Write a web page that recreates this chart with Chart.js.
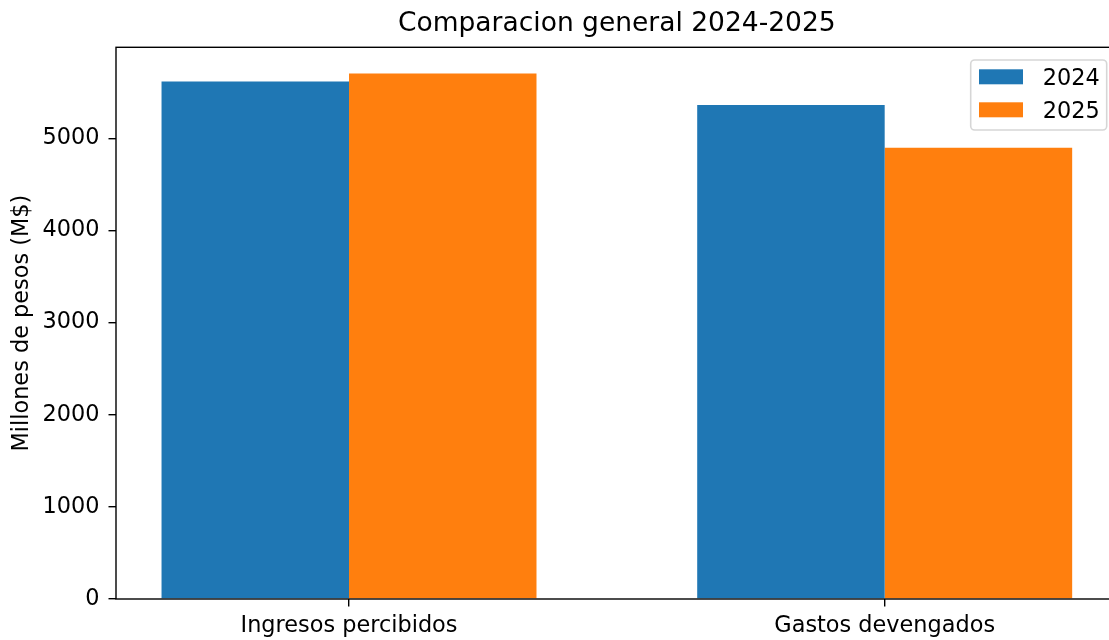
<!DOCTYPE html>
<html>
<head>
<meta charset="utf-8">
<script src="https://cdn.jsdelivr.net/npm/chart.js@4.4.1/dist/chart.umd.min.js"></script>
<style>
html, body { margin: 0; padding: 0; background: #fff; overflow: hidden; }
#wrap { width: 1130px; height: 640px; }
</style>
</head>
<body>
<div id="wrap"><canvas id="chart" width="1130" height="640"></canvas></div>
<script>
// data
const categories = ['Ingresos percibidos', 'Gastos devengados'];
const years = ['2024', '2025'];
const values2024 = [5616, 5362];
const values2025 = [5703, 4899];
const yTicks = [0, 1000, 2000, 3000, 4000, 5000];
const yMax = 5988;

const FONT = "'DejaVu Sans', sans-serif";
const FS = 22.4;
const blue = '#1f77b4';
const orange = '#ff7f0e';

// frame + legend drawn like matplotlib
const frameAndLegend = {
    id: 'frameAndLegend',
    afterDatasetsDraw(chart) {
        const ctx = chart.ctx;
        const a = chart.chartArea;

        ctx.save();
        ctx.strokeStyle = '#000';
        ctx.lineWidth = 1.4;
        ctx.strokeRect(a.left, a.top, a.right - a.left, a.bottom - a.top);

        // legend box
        const bx = a.right - 147, by = a.top + 12.7, bw = 136, bh = 70;
        ctx.beginPath();
        ctx.roundRect(bx, by, bw, bh, 4);
        ctx.fillStyle = 'rgba(255,255,255,0.8)';
        ctx.fill();
        ctx.strokeStyle = 'rgba(204,204,204,0.8)';
        ctx.lineWidth = 1.6;
        ctx.stroke();

        ctx.font = FS + 'px ' + FONT;
        ctx.textBaseline = 'alphabetic';
        ctx.textAlign = 'left';
        chart.data.datasets.forEach((ds, i) => {
            const rowTop = by + 9.3 + i * 33;
            ctx.fillStyle = ds.backgroundColor;
            ctx.fillRect(bx + 8.3, rowTop, 44, 15);
            ctx.fillStyle = '#000';
            ctx.fillText(ds.label, bx + 72, rowTop + 16);
        });
        ctx.restore();
    }
};

const context = document.getElementById('chart').getContext('2d');
const chart = new Chart(context, {
    type: 'bar',
    data: {
        datasets: [{
            label: years[0],
            data: values2024.map((v, i) => ({ x: i, y: v })),
            backgroundColor: blue,
            borderWidth: 0
        }, {
            label: years[1],
            data: values2025.map((v, i) => ({ x: i, y: v })),
            backgroundColor: orange,
            borderWidth: 0
        }]
    },
    options: {
        responsive: false,
        animation: false,
        devicePixelRatio: 1,
        categoryPercentage: 0.7,
        barPercentage: 1.0,
        layout: { padding: { left: 0, right: 12.3, top: 0, bottom: 0 } },
        plugins: {
            legend: { display: false },
            tooltip: { enabled: false },
            title: {
                display: true,
                fullSize: false,
                text: 'Comparacion general 2024-2025',
                color: '#000',
                font: { family: FONT, size: 26.5, weight: 'normal', lineHeight: 1.2 },
                padding: { top: 8, bottom: 7.5 }
            }
        },
        scales: {
            x: {
                type: 'linear',
                offset: false,
                min: -0.435,
                max: 1.435,
                border: { display: false },
                grid: {
                    offset: false,
                    drawOnChartArea: false,
                    drawTicks: true,
                    tickLength: 7.5,
                    color: '#000',
                    lineWidth: 1.4
                },
                afterBuildTicks: scale => {
                    scale.ticks = categories.map((c, i) => ({ value: i }));
                },
                afterFit: scale => { scale.height = 41; },
                ticks: {
                    autoSkip: false,
                    maxRotation: 0,
                    padding: 6,
                    color: '#000',
                    font: { family: FONT, size: FS },
                    callback: value => categories[value]
                }
            },
            y: {
                min: 0,
                max: yMax,
                border: { display: false },
                grid: {
                    drawOnChartArea: false,
                    drawTicks: true,
                    tickLength: 7.5,
                    color: '#000',
                    lineWidth: 1.4
                },
                afterBuildTicks: scale => {
                    scale.ticks = yTicks.map(v => ({ value: v }));
                },
                afterFit: scale => { scale.width = 116; },
                ticks: {
                    padding: 9,
                    color: '#000',
                    font: { family: FONT, size: FS },
                    callback: value => String(value)
                },
                title: {
                    display: true,
                    text: 'Millones de pesos (M$)',
                    color: '#000',
                    font: { family: FONT, size: FS, lineHeight: 1.2 },
                    padding: { top: 8.5, bottom: 0 }
                }
            }
        }
    },
    plugins: [frameAndLegend]
});
</script>
</body>
</html>
